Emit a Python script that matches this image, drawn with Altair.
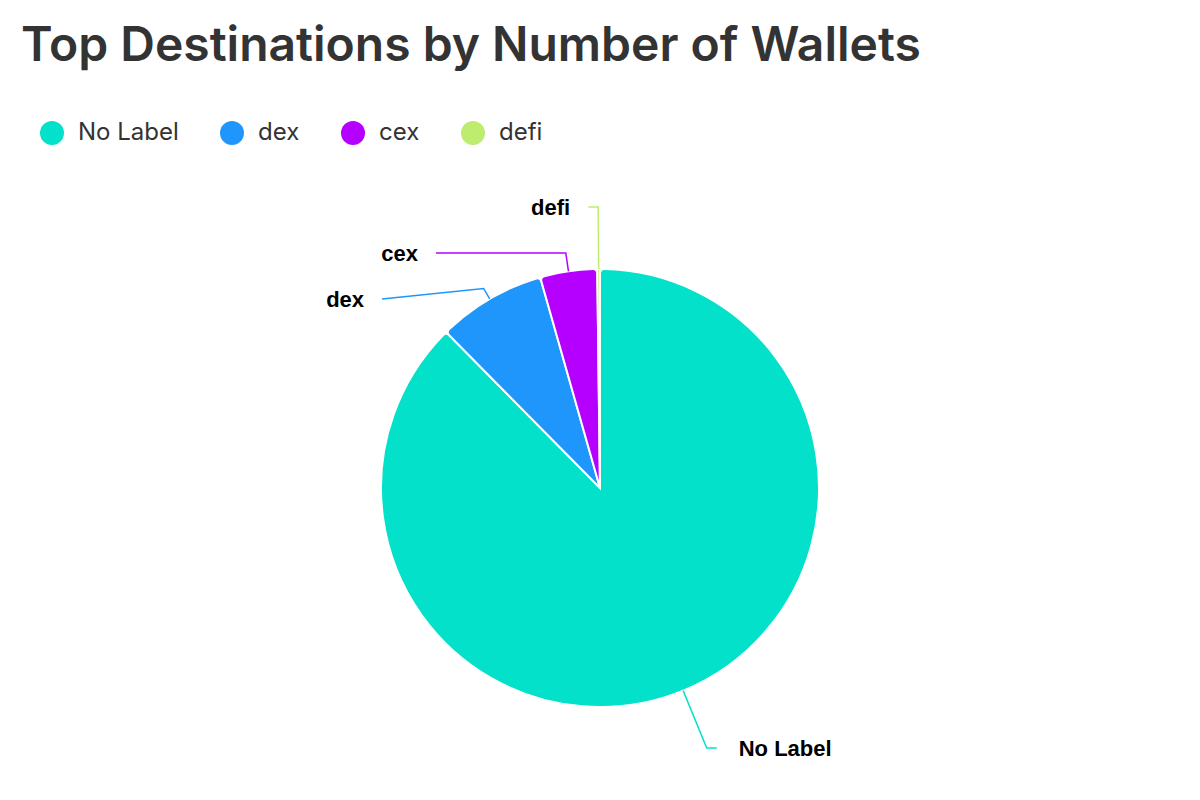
import math
import altair as alt
import pandas as pd

# ---- data ----
categories = ["No Label", "dex", "cex", "defi"]
wallets = [876, 80, 42, 2]
colors = ["#04E1CB", "#1E96FC", "#B600FF", "#BDEC6F"]

# ---- layout constants (pixels) ----
PAGE = 8
PAD_TOP = 15
TITLE_SIZE = 48
TITLE_OFFSET = 10
VIEW_W = 1180
VIEW_H = 700
VY0 = PAGE + PAD_TOP + TITLE_SIZE + TITLE_OFFSET  # top of plot area on the page
CX = 600 - PAGE
CY = 488 - VY0
R = 219
LINE_LEN = 62
LINE_LEN2 = 10
LABEL_GAP_RIGHT = 22
LABEL_GAP_LEFT = 18
LABEL_SPACING = 46
MIN_TURN = 12

# ---- pie table ----
pie = pd.DataFrame({"category": categories, "wallets": wallets, "idx": range(len(categories))})

# ---- outside-label layout computed from the slice angles ----
total = float(sum(wallets))
R1 = R + LINE_LEN
items = []
cum = 0.0
for i, (cat, v) in enumerate(zip(categories, wallets)):
    a0 = cum / total * 2 * math.pi
    cum += v
    a1 = cum / total * 2 * math.pi
    mid = (a0 + a1) / 2
    s, c = math.sin(mid), math.cos(mid)
    items.append({
        "category": cat, "mid": mid, "s": s, "c": c,
        "side": "right" if s >= 0 else "left",
        "ex": CX + R * s, "ey": CY - R * c,
        "ny": CY - R1 * c,
    })

for side in ("left", "right"):
    group = sorted([it for it in items if it["side"] == side], key=lambda d: d["ny"])
    prev = None
    for it in group:
        y = it["ny"] if prev is None else max(it["ny"], prev + LABEL_SPACING)
        it["ly"] = y
        prev = y

line_rows = []
label_rows = []
for it in items:
    s, c, ly = it["s"], it["c"], it["ly"]
    if abs(c) > 1e-9:
        t = (ly - CY) / (-c)
    else:
        t = R1
    t = max(t, R + MIN_TURN)
    bx, by = CX + t * s, CY - t * c
    dy = ly - CY
    sign = 1 if it["side"] == "right" else -1
    if abs(dy) < R1:
        xl = CX + sign * math.sqrt(R1 ** 2 - dy ** 2)
    else:
        xl = bx
    if sign > 0:
        cx_end = max(bx, xl) + LINE_LEN2
        lx = cx_end + LABEL_GAP_RIGHT
    else:
        cx_end = min(bx, xl) - LINE_LEN2
        lx = cx_end - LABEL_GAP_LEFT
    for k, (px, py) in enumerate([(it["ex"], it["ey"]), (bx, by), (cx_end, ly)]):
        line_rows.append({"category": it["category"], "seq": k, "px": px, "py": py})
    label_rows.append({"category": it["category"], "side": it["side"], "lx": lx, "ly": ly + 1})

lines = pd.DataFrame(line_rows)
labels = pd.DataFrame(label_rows)

color_scale = alt.Scale(domain=categories, range=colors)

arcs = alt.Chart(pie).mark_arc(
    outerRadius=R, stroke="white", strokeWidth=2, cornerRadius=4
).encode(
    theta=alt.Theta("wallets:Q", stack=True),
    order=alt.Order("idx:Q"),
    color=alt.Color(
        "category:N", scale=color_scale, sort=categories,
        legend=alt.Legend(
            title=None, orient="none", legendX=32, legendY=40,
            direction="horizontal", symbolType="circle", symbolSize=576,
            symbolStrokeWidth=0, symbolOpacity=1,
            labelFont="Inter", labelFontSize=24, labelColor="#333333",
            labelOffset=14, columnPadding=41,
        ),
    ),
    x=alt.value(CX),
    y=alt.value(CY),
)

leaders = alt.Chart(lines).mark_line(strokeWidth=1.5).encode(
    x=alt.X("px:Q", scale=None, axis=None),
    y=alt.Y("py:Q", scale=None, axis=None),
    detail="category:N",
    order=alt.Order("seq:Q"),
    stroke=alt.Stroke("category:N", scale=color_scale, legend=None),
)

text_common = dict(font="Liberation Sans", fontSize=22, fontWeight="bold", color="#000000", baseline="middle")

labels_right = alt.Chart(labels).transform_filter(alt.datum.side == "right").mark_text(
    align="left", **text_common
).encode(
    x=alt.X("lx:Q", scale=None, axis=None),
    y=alt.Y("ly:Q", scale=None, axis=None),
    text="category:N",
)

labels_left = alt.Chart(labels).transform_filter(alt.datum.side == "left").mark_text(
    align="right", **text_common
).encode(
    x=alt.X("lx:Q", scale=None, axis=None),
    y=alt.Y("ly:Q", scale=None, axis=None),
    text="category:N",
)

chart = alt.layer(arcs, leaders, labels_right, labels_left).properties(
    width=VIEW_W,
    height=VIEW_H,
    padding={"left": 0, "top": PAD_TOP, "right": 0, "bottom": 0},
    title=alt.Title(
        "Top Destinations by Number of Wallets",
        anchor="start", fontSize=TITLE_SIZE, font="Inter", fontWeight=600,
        color="#333333", offset=TITLE_OFFSET, dx=13,
    ),
).configure(background="white").configure_view(stroke=None, strokeWidth=0)

chart.save("out.html", embed_options={"renderer": "svg", "actions": False})
